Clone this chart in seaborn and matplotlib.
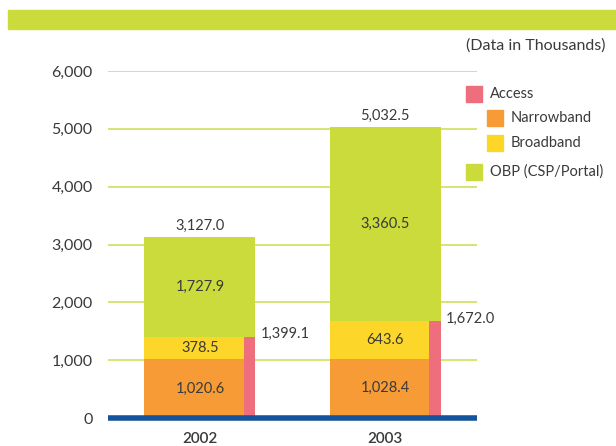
import numpy as np
import pandas as pd
import matplotlib
matplotlib.use("Agg")
import matplotlib.pyplot as plt
import seaborn as sns
from matplotlib.patches import Rectangle

years = ["2002", "2003"]
narrowband = [1020.6, 1028.4]
broadband = [378.5, 643.6]
obp = [1727.9, 3360.5]
access = [1399.1, 1672.0]
legend_labels = ["Access", "Narrowband", "Broadband", "OBP (CSP/Portal)"]
yticks = [0, 1000, 2000, 3000, 4000, 5000, 6000]

c_green = "#cbdb3b"
c_orange = "#f69b36"
c_yellow = "#fdd62a"
c_pink = "#ef6e7e"
c_blue = "#15539c"
c_grid = "#d4e06a"
c_text = "#3a3a3a"

sns.set_style("white")
plt.rcParams["font.family"] = ["Lato", "DejaVu Sans"]

df = pd.DataFrame({"Year": years, "Narrowband": narrowband, "Broadband": broadband,
                   "OBP": obp, "Access": access})
df["NB_BB"] = df["Narrowband"] + df["Broadband"]
df["Total"] = df["NB_BB"] + df["OBP"]

fig = plt.figure(figsize=(6.16, 4.46), dpi=100)
ax = fig.add_axes([108 / 616, 1 - 418 / 446, 369 / 616, 347 / 446])

# stacked bars, drawn from the top segment down
for col, colr in [("Total", c_green), ("NB_BB", c_yellow), ("Narrowband", c_orange)]:
    sns.barplot(data=df, x="Year", y=col, color=colr, width=0.6, saturation=1,
                linewidth=0, ax=ax, zorder=2)

pos = np.arange(len(years))
ax.bar(pos + 0.27, df["Access"], width=0.06, color=c_pink, linewidth=0, zorder=3)

for i, row in df.iterrows():
    ax.text(i, row["Narrowband"] / 2, f"{row['Narrowband']:,.1f}", ha="center", va="center",
            fontsize=10.5, color=c_text, zorder=4)
    ax.text(i, row["Narrowband"] + row["Broadband"] / 2, f"{row['Broadband']:,.1f}", ha="center",
            va="center", fontsize=10.5, color=c_text, zorder=4)
    ax.text(i, row["NB_BB"] + row["OBP"] / 2, f"{row['OBP']:,.1f}", ha="center", va="center",
            fontsize=10.5, color=c_text, zorder=4)
    ax.annotate(f"{row['Total']:,.1f}", (i, row["Total"]), xytext=(0, 3), textcoords="offset points",
                ha="center", va="bottom", fontsize=10.5, color=c_text)
    ax.annotate(f"{row['Access']:,.1f}", (i + 0.3, row["Access"]), xytext=(4, 2),
                textcoords="offset points", ha="left", va="center", fontsize=10.5, color=c_text)

ax.set_xlim(-0.497, 1.497)
ax.set_ylim(0, 6000)
ax.set_yticks(yticks)
ax.set_yticklabels([f"{v:,}" for v in yticks], fontsize=11.5, color=c_text)
ax.set_xticklabels(years, fontsize=11, color=c_text, fontweight="semibold")
ax.tick_params(axis="y", length=0, pad=11)
ax.tick_params(axis="x", length=0, pad=10)
ax.set_xlabel("")
ax.set_ylabel("")
for y in yticks[1:]:
    ax.axhline(y, color=c_grid, lw=1.3, zorder=1)
ax.axhline(0, color=c_blue, lw=4, zorder=5, clip_on=False, solid_capstyle="butt")
sns.despine(ax=ax, left=True, bottom=True)

# header band and unit note
fig.patches.append(Rectangle((8 / 616, 1 - 29 / 446), 1, 19 / 446, transform=fig.transFigure,
                             color=c_green, zorder=0))
fig.text(605 / 616, 1 - 46 / 446, "(Data in Thousands)", ha="right", va="center", fontsize=11.5,
         color=c_text)

# legend
leg_colors = [c_pink, c_orange, c_yellow, c_green]
leg_x = [466, 487, 487, 466]
leg_y = [94, 118, 143, 172]
for lab, col, lx, ly in zip(legend_labels, leg_colors, leg_x, leg_y):
    fig.patches.append(Rectangle((lx / 616, 1 - (ly + 8) / 446), 16 / 616, 16 / 446,
                                 transform=fig.transFigure, color=col))
    fig.text((lx + 24) / 616, 1 - ly / 446, lab, ha="left", va="center", fontsize=10.5, color=c_text)

fig.savefig("out.png", dpi=100)
